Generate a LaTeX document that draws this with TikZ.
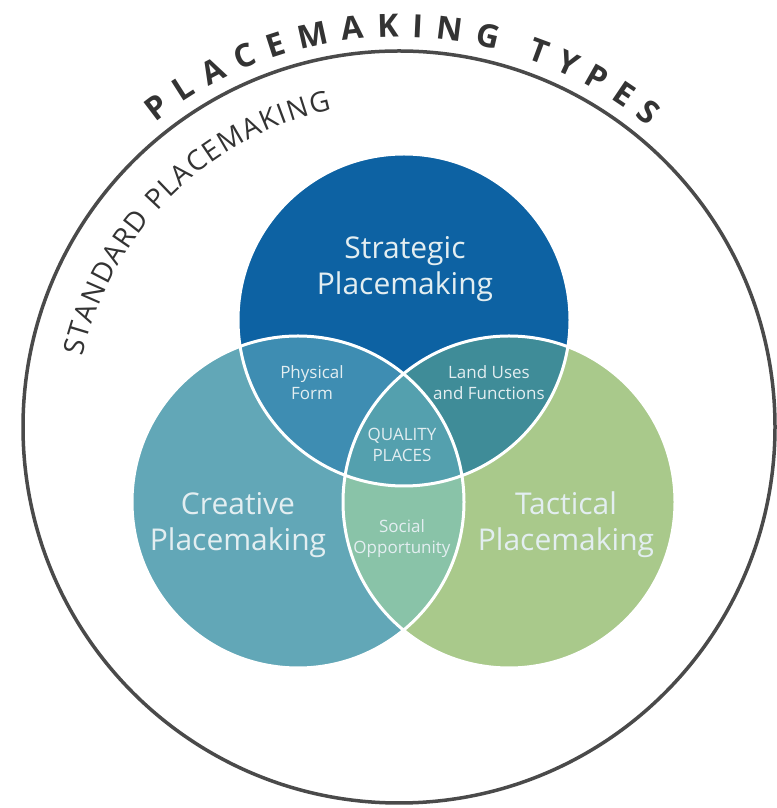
\documentclass[tikz,border=0pt]{standalone}
\usepackage{fontspec}
\setmainfont{Open Sans}
\usetikzlibrary{decorations.text}
\newcommand{\ringtitlefont}{\fontsize{32}{36}\selectfont\bfseries}
\newcommand{\ringsubfont}{\fontsize{28}{32}\selectfont}
\newcommand{\vennr}{166}
\definecolor{ringink}{HTML}{4A4A4A}
\definecolor{titleink}{HTML}{333333}
\definecolor{stratblue}{HTML}{0D62A3}
\definecolor{createal}{HTML}{62A7B7}
\definecolor{tactgreen}{HTML}{A9C98B}
\definecolor{formblue}{HTML}{3E8DB2}
\definecolor{landteal}{HTML}{3F8C98}
\definecolor{socialmint}{HTML}{89C3A8}
\definecolor{qualteal}{HTML}{54A0AE}
\definecolor{labelink}{HTML}{E3EEF1}

\begin{document}
\begin{tikzpicture}[
  x=1pt,
  y=1pt,
  every node/.style={labelink, align=center, inner sep=0pt},
  biglabel/.style={font=\fontsize{30}{36}\selectfont},
  smalllabel/.style={font=\fontsize{17}{21}\selectfont},
  ring/.style={ringink, line width=3.5pt},
  seam/.style={white, line width=3pt},
  arctext/.style={decorate, decoration={text along path,
                  text align=fit to path, text color=titleink}}
]
  \useasboundingbox (0,0) rectangle (776,808);

  % ---- centres ----
  \coordinate (hub)   at (399,381);
  \coordinate (strat) at (404,488);
  \coordinate (crea)  at (298,306);
  \coordinate (tact)  at (509,306);

  % ---- outer ring and its arc captions ----
  \draw[ring] (hub) circle[radius=376];
  \path[arctext, decoration={text={|\ringtitlefont|PLACEMAKING}}]
    ([shift={(128.7:390)}]hub) arc[start angle=128.7, end angle=75.5, radius=390];
  \path[arctext, decoration={text={|\ringtitlefont|TYPES}}]
    ([shift={(71:390)}]hub) arc[start angle=71, end angle=50.3, radius=390];
  \path[arctext, decoration={text={|\ringsubfont|STANDARD PLACEMAKING}}]
    ([shift={(167.5:324)}]hub) arc[start angle=167.5, end angle=102, radius=324];

  % ---- the three circles ----
  \foreach \c/\col in {strat/stratblue, crea/createal, tact/tactgreen}
    \fill[\col] (\c) circle[radius=\vennr];

  % ---- pairwise overlaps ----
  \foreach \a/\b/\col in {strat/crea/formblue, strat/tact/landteal, crea/tact/socialmint} {
    \begin{scope}
      \clip (\a) circle[radius=\vennr];
      \fill[\col] (\b) circle[radius=\vennr];
    \end{scope}
  }

  % ---- centre overlap ----
  \begin{scope}
    \clip (strat) circle[radius=\vennr];
    \clip (crea) circle[radius=\vennr];
    \fill[qualteal] (tact) circle[radius=\vennr];
  \end{scope}

  % ---- white seams (drawn over the fills) ----
  \foreach \c in {strat, crea, tact}
    \draw[seam] (\c) circle[radius=\vennr];

  % ---- labels ----
  \node[biglabel]   (stratlbl)  at (405,539) {Strategic\\Placemaking};
  \node[biglabel]   (crealbl)   at (238,283) {Creative\\Placemaking};
  \node[biglabel]   (tactlbl)   at (566,283) {Tactical\\Placemaking};
  \node[smalllabel] (formlbl)   at (312,425) {Physical\\Form};
  \node[smalllabel] (landlbl)   at (489,425) {Land Uses\\and Functions};
  \node[smalllabel] (quallbl)   at (402,363) {QUALITY\\PLACES};
  \node[smalllabel] (sociallbl) at (402,269) {Social\\Opportunity};
\end{tikzpicture}
\end{document}
